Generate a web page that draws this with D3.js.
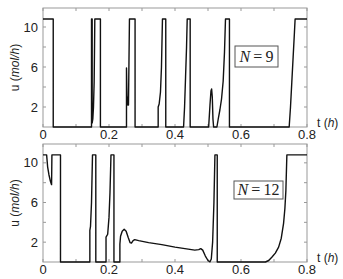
<!DOCTYPE html>
<html>
<head>
<meta charset="utf-8">
<script src="https://cdn.jsdelivr.net/npm/d3@7"></script>
<style>
  body { margin: 0; background: #fff; }
  text { font-family: "Liberation Sans", Arial, sans-serif; fill: #222; }
</style>
</head>
<body>
<div id="chart-area"></div>
<script>

// values (t in h, u in mol/h)
let tTop = [0, 0.031, 0.031, 0.147, 0.147, 0.149, 0.149, 0.151, 0.153, 0.155, 0.156, 0.157, 0.174, 0.174,
  0.253, 0.253, 0.255, 0.256, 0.257, 0.258, 0.259, 0.260, 0.262, 0.279, 0.279,
  0.349, 0.349, 0.352, 0.356, 0.359, 0.362, 0.372, 0.372,
  0.426, 0.429, 0.432, 0.435, 0.437, 0.446, 0.446,
  0.502, 0.506, 0.509, 0.511, 0.513, 0.515, 0.517,
  0.527, 0.531, 0.536, 0.541, 0.546, 0.550, 0.553, 0.565, 0.565,
  0.746, 0.750, 0.754, 0.758, 0.762, 0.764, 0.8];
let uTop = [10.8, 10.8, 0, 0, 10.8, 10.8, 0.4, 0.8, 2, 4.5, 7.5, 10.8, 10.8, 0,
  0, 5.9, 2.3, 3.0, 2.2, 2.8, 2.2, 5, 10.8, 10.8, 0,
  0, 2.0, 2.3, 3.5, 6, 10.8, 10.8, 0,
  0, 2, 5, 8, 10.8, 10.8, 0,
  0, 2.2, 3.6, 3.8, 3.0, 0.8, 0,
  0, 0.8, 1.7, 2.8, 4.6, 7.5, 10.8, 10.8, 0,
  0, 2, 4.5, 7, 9.5, 10.8, 10.8];

let tBottom = [0, 0.011, 0.014, 0.018, 0.022, 0.026, 0.027, 0.053, 0.053,
  0.142, 0.142, 0.144, 0.147, 0.150, 0.160, 0.160,
  0.191, 0.191, 0.196, 0.200, 0.203, 0.206, 0.215, 0.215,
  0.233, 0.233, 0.235, 0.240, 0.246, 0.252, 0.258, 0.264, 0.268, 0.273, 0.278, 0.29, 0.32, 0.36, 0.40,
  0.44, 0.46, 0.472, 0.478, 0.484, 0.492, 0.500, 0.506, 0.510, 0.514, 0.518, 0.521, 0.528, 0.528,
  0.674, 0.684, 0.694, 0.704, 0.714, 0.722, 0.729, 0.733, 0.736, 0.739, 0.8];
let uBottom = [10.8, 10.8, 9.6, 8.8, 8.2, 7.8, 10.8, 10.8, 0,
  0, 3.2, 3.6, 6, 10.8, 10.8, 0,
  0, 2.5, 2.8, 4.5, 7, 10.8, 10.8, 0,
  0, 1.8, 2.6, 3.1, 3.3, 3.1, 2.5, 1.95, 1.9, 2.15, 2.25, 2.15, 1.95, 1.75, 1.5,
  1.3, 1.2, 1.25, 1.35, 1.2, 0.6, 0.15, 0.02, 0.3, 2, 6, 10.8, 10.8, 0,
  0, 0.15, 0.5, 0.9, 1.5, 2.4, 3.9, 5.4, 7.2, 10.8, 10.8];

let xTickLabels = [0, 0.2, 0.4, 0.6, 0.8];
let xMinorTicks = [0.1, 0.3, 0.5, 0.7];
let yTickLabels = [2, 6, 10];
let yMinorTicks = [4, 8];

let panels = [
  {t: tTop, u: uTop, label: "9", top: 8, bottom: 127, box: [235, 46, 43, 21]},
  {t: tBottom, u: uBottom, label: "12", top: 144, bottom: 262, box: [234, 181, 49, 18]}
];

let margin = {left: 43, right: 36};
let width = 343 - margin.left - margin.right;

let svg = d3.select("#chart-area").append("svg")
  .attr("width", 343)
  .attr("height", 279);

let x = d3.scaleLinear()
  .domain([0, 0.8])
  .range([0, width]);

panels.forEach(p => {
  let height = p.bottom - p.top;
  let y = d3.scaleLinear()
    .domain([0, 11.9])
    .range([height, 0]);

  let g = svg.append("g")
    .attr("transform", "translate(" + margin.left + "," + p.top + ")");

  // frame
  g.append("rect")
    .attr("width", width)
    .attr("height", height)
    .attr("fill", "none")
    .attr("stroke", "#999")
    .attr("stroke-width", 1);

  // inward ticks on all four sides
  let allX = xTickLabels.concat(xMinorTicks);
  let allY = yTickLabels.concat(yMinorTicks);
  allX.forEach(v => {
    g.append("line").attr("x1", x(v)).attr("x2", x(v)).attr("y1", height).attr("y2", height - 3)
      .attr("stroke", "#999");
    g.append("line").attr("x1", x(v)).attr("x2", x(v)).attr("y1", 0).attr("y2", 3)
      .attr("stroke", "#999");
  });
  allY.forEach(v => {
    g.append("line").attr("x1", 0).attr("x2", 3).attr("y1", y(v)).attr("y2", y(v))
      .attr("stroke", "#999");
    g.append("line").attr("x1", width).attr("x2", width - 3).attr("y1", y(v)).attr("y2", y(v))
      .attr("stroke", "#999");
  });

  // tick labels
  g.selectAll(".xlab")
    .data(xTickLabels)
    .enter().append("text")
    .attr("x", d => x(d))
    .attr("y", height + 12)
    .attr("text-anchor", "middle")
    .style("font-size", "13px")
    .text(d => d);

  g.selectAll(".ylab")
    .data(yTickLabels)
    .enter().append("text")
    .attr("x", -5)
    .attr("y", d => y(d) + 4.5)
    .attr("text-anchor", "end")
    .style("font-size", "13px")
    .text(d => d);

  // axis titles
  let yt = g.append("text")
    .attr("transform", "translate(-24," + (height / 2) + ") rotate(-90)")
    .attr("text-anchor", "middle")
    .style("font-size", "12px");
  yt.append("tspan").text("u (");
  yt.append("tspan").style("font-style", "italic").text("mol/h");
  yt.append("tspan").text(")");

  let xt = g.append("text")
    .attr("x", width + 10)
    .attr("y", height + 0)
    .style("font-size", "12px");
  xt.append("tspan").text("t (");
  xt.append("tspan").style("font-style", "italic").text("h");
  xt.append("tspan").text(")");

  // data line
  let data = p.t.map((t, i) => ({t: t, u: p.u[i]}));
  let line = d3.line()
    .x(d => x(d.t))
    .y(d => y(d.u));

  g.append("path")
    .attr("fill", "none")
    .attr("stroke", "#111")
    .attr("stroke-width", 1.4)
    .attr("stroke-linejoin", "round")
    .attr("d", line(data));

  // N label box
  svg.append("rect")
    .attr("x", p.box[0])
    .attr("y", p.box[1])
    .attr("width", p.box[2])
    .attr("height", p.box[3])
    .attr("fill", "#fff")
    .attr("stroke", "#555")
    .attr("stroke-width", 1);

  let nt = svg.append("text")
    .attr("x", p.box[0] + p.box[2] / 2)
    .attr("y", p.box[1] + p.box[3] / 2 + 5)
    .attr("text-anchor", "middle")
    .style("font-family", "'Liberation Serif', 'Times New Roman', serif")
    .style("font-size", "16px");
  nt.append("tspan").style("font-style", "italic").text("N");
  nt.append("tspan").text("\u2009=\u2009" + p.label);
});

</script>
</body>
</html>
